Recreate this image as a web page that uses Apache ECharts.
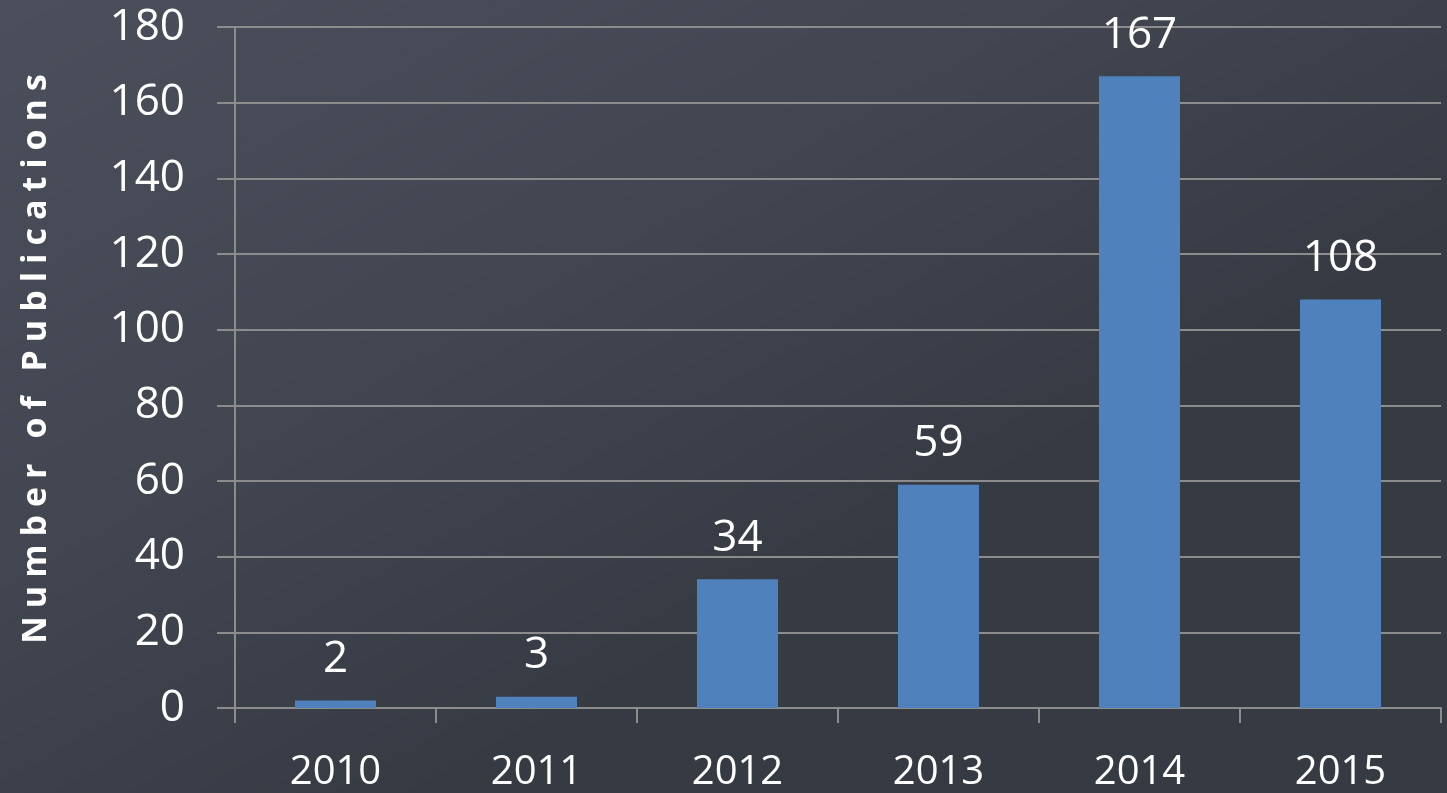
<!DOCTYPE html>
<html>
<head>
<meta charset="utf-8">
<style>
html,body{margin:0;padding:0;width:1447px;height:793px;overflow:hidden;background:#3f444e;}
#chart{width:1447px;height:793px;}
</style>
<script src="https://cdn.jsdelivr.net/npm/echarts@6/dist/echarts.min.js"></script>
</head>
<body>
<div id="chart"></div>
<script>
const years = ['2010', '2011', '2012', '2013', '2014', '2015'];
const publications = [2, 3, 34, 59, 167, 108];
const yTicks = { min: 0, max: 180, interval: 20 };
const yAxisTitle = 'Number of Publications';

// letter-spaced axis title only (canvas letterSpacing), every other text unspaced
const origFill = CanvasRenderingContext2D.prototype.fillText;
CanvasRenderingContext2D.prototype.fillText = function (t, x, y, m) {
  const hasLS = 'letterSpacing' in this;
  const want = (t === yAxisTitle) ? '8px' : '0px';
  if (hasLS && this.letterSpacing !== want) {
    const f = this.font;
    this.letterSpacing = want;
    this.font = '10px serif';
    this.font = f;
  }
  return m === undefined ? origFill.call(this, t, x, y) : origFill.call(this, t, x, y, m);
};

const chart = echarts.init(document.getElementById('chart'), null, { renderer: 'canvas' });
const font = '"Open Sans", "Noto Sans", sans-serif';
chart.setOption({
  animation: false,
  backgroundColor: {
    type: 'linear', x: 0, y: 0, x2: 0.3, y2: 1,
    colorStops: [
      { offset: 0, color: '#4a4f5b' },
      { offset: 0.55, color: '#424651' },
      { offset: 1, color: '#363a43' }
    ]
  },
  grid: { left: 235, right: 6, top: 27, bottom: 85, containLabel: false },
  graphic: [{
    type: 'text',
    x: 36,
    y: 355,
    rotation: Math.PI / 2,
    style: {
      text: yAxisTitle,
      fill: '#ffffff',
      font: 'bold 34px "Open Sans", "Noto Sans", sans-serif',
      textAlign: 'center',
      textVerticalAlign: 'middle'
    }
  }],
  xAxis: {
    type: 'category',
    data: years,
    boundaryGap: true,
    axisLine: { show: true, lineStyle: { color: '#8c8c8c', width: 2 } },
    axisTick: { show: true, alignWithLabel: false, length: 15, lineStyle: { color: '#8c8c8c', width: 2 } },
    axisLabel: { color: '#ffffff', fontSize: 40, fontFamily: font, margin: 45 },
    splitLine: { show: false }
  },
  yAxis: {
    type: 'value',
    min: yTicks.min, max: yTicks.max, interval: yTicks.interval,
    axisLine: { show: true, lineStyle: { color: '#8c8c8c', width: 2 } },
    axisTick: { show: true, length: 18, lineStyle: { color: '#8c8c8c', width: 2 } },
    axisLabel: { color: '#ffffff', fontSize: 44, fontFamily: font, margin: 50 },
    splitLine: { show: true, lineStyle: { color: '#8c8c8c', width: 2 } }
  },
  series: [{
    type: 'bar',
    data: publications,
    barWidth: 81,
    itemStyle: { color: '#4f81bd' },
    label: {
      show: true, position: 'top', distance: 19,
      color: '#ffffff', fontSize: 44, fontFamily: font
    }
  }]
});
</script>
</body>
</html>
